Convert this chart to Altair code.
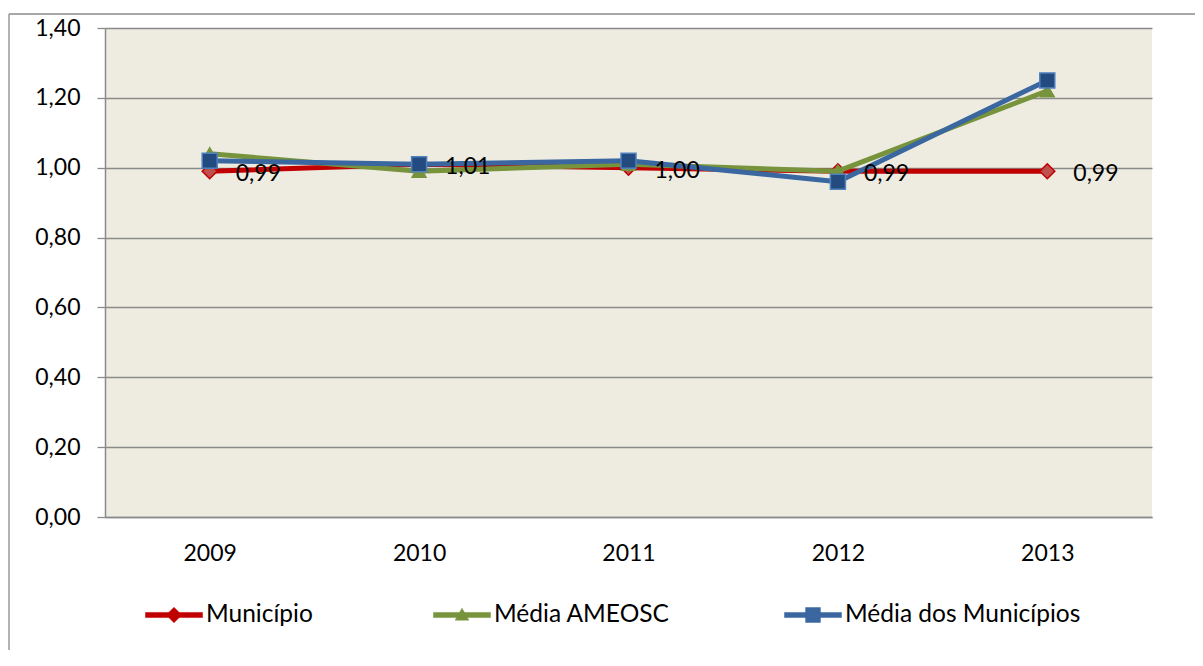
import altair as alt
import pandas as pd

years = ["2009", "2010", "2011", "2012", "2013"]
municipio = [0.99, 1.01, 1.00, 0.99, 0.99]
media_ameosc = [1.04, 0.99, 1.01, 0.99, 1.22]
media_municipios = [1.02, 1.01, 1.02, 0.96, 1.25]

series_names = ["Município", "Média AMEOSC", "Média dos Municípios"]
y_ticks = [0.0, 0.2, 0.4, 0.6, 0.8, 1.0, 1.2, 1.4]

FONT = "Lato"
FS = 23
LFS = 24.5
GRID = "#8a8a8a"

x_enc = alt.X("ano:O", sort=years, scale=alt.Scale(padding=0.5),
              axis=alt.Axis(title=None, labelAngle=0, ticks=False, domainColor=GRID,
                            domainWidth=1.5, labelFont=FONT, labelFontSize=FS,
                            labelColor="black", labelPadding=25, grid=False))
y_enc = alt.Y("valor:Q", scale=alt.Scale(domain=[0, 1.4], nice=False, zero=True),
              axis=alt.Axis(title=None, values=y_ticks, grid=True, gridColor=GRID,
                            gridWidth=1.3, domainColor=GRID, domainWidth=1.5,
                            tickColor=GRID, tickSize=8, tickWidth=1.3,
                            labelFont=FONT, labelFontSize=FS, labelColor="black",
                            labelPadding=17,
                            labelExpr="replace(format(datum.value, '.2f'), '.', ',')"))

styles = [
    # line colour, marker shape, marker fill, marker stroke, marker size, legend path, legendX
    ("#C00000", "diamond", "#C0504D", "#C00000", 225,
     "M-1,-0.09 H1 V0.09 H-1 Z M0,-0.27 L0.27,0 L0,0.27 L-0.27,0 Z", 40),
    ("#77933C", "triangle-up", "#77933C", "#77933C", 190,
     "M-1,-0.09 H1 V0.09 H-1 Z M0,-0.24 L0.24,0.18 L-0.24,0.18 Z", 328),
    ("#3A67A0", "square", "#234B80", "#4F81BD", 225,
     "M-1,-0.09 H1 V0.09 H-1 Z M-0.26,-0.26 H0.26 V0.26 H-0.26 Z", 679),
]

all_values = [municipio, media_ameosc, media_municipios]

layers = []
# outer frame (top and left edges)
frame_df = pd.DataFrame({"k": [0]})
layers.append(alt.Chart(frame_df).mark_rule(color=GRID, strokeWidth=1.3).encode(
    x=alt.value(-96), x2=alt.value(1110), y=alt.value(-14)))
layers.append(alt.Chart(frame_df).mark_rule(color=GRID, strokeWidth=1.3).encode(
    x=alt.value(-96), y=alt.value(-14), y2=alt.value(660)))

for name, vals, st in zip(series_names, all_values, styles):
    line_c, shape, mfill, mstroke, msize, path, lx = st
    df = pd.DataFrame({"ano": years, "valor": vals, "serie": [name] * len(years)})
    base = alt.Chart(df)
    line = base.mark_line(strokeWidth=5, strokeJoin="round").encode(
        x=x_enc, y=y_enc,
        color=alt.Color("serie:N", scale=alt.Scale(domain=[name], range=[line_c]),
                        legend=alt.Legend(orient="none", legendX=lx, legendY=558,
                                          direction="horizontal", title=None,
                                          symbolType=path, symbolSize=3249,
                                          symbolFillColor=line_c, symbolStrokeColor=line_c,
                                          symbolStrokeWidth=0.5, symbolOpacity=1,
                                          labelFont=FONT, labelFontSize=LFS,
                                          labelLimit=500,
                                          labelColor="black", labelOffset=3, padding=0)))
    pts = base.mark_point(shape=shape, filled=True, size=msize, opacity=1,
                          fill=mfill, stroke=mstroke, strokeWidth=1.5).encode(
        x=x_enc, y=y_enc)
    layers += [line, pts]

lab_df = pd.DataFrame({"ano": years, "valor": municipio})
labels = alt.Chart(lab_df).transform_calculate(
    rotulo="replace(format(datum.valor, '.2f'), '.', ',')"
).mark_text(align="left", baseline="middle", dx=26, dy=3, font=FONT, fontSize=FS,
            color="black").encode(x=x_enc, y=y_enc, text="rotulo:N")
layers.append(labels)

chart = alt.layer(*layers).resolve_scale(color="independent").properties(
    width=1047, height=489,
    padding={"left": 97, "top": 20, "right": 43, "bottom": 133},
    autosize=alt.AutoSizeParams(type="none"),
    background="white",
).configure_view(fill="#EEECE1", stroke=None)

chart.save("out.html", embed_options={"renderer": "svg", "actions": False})
